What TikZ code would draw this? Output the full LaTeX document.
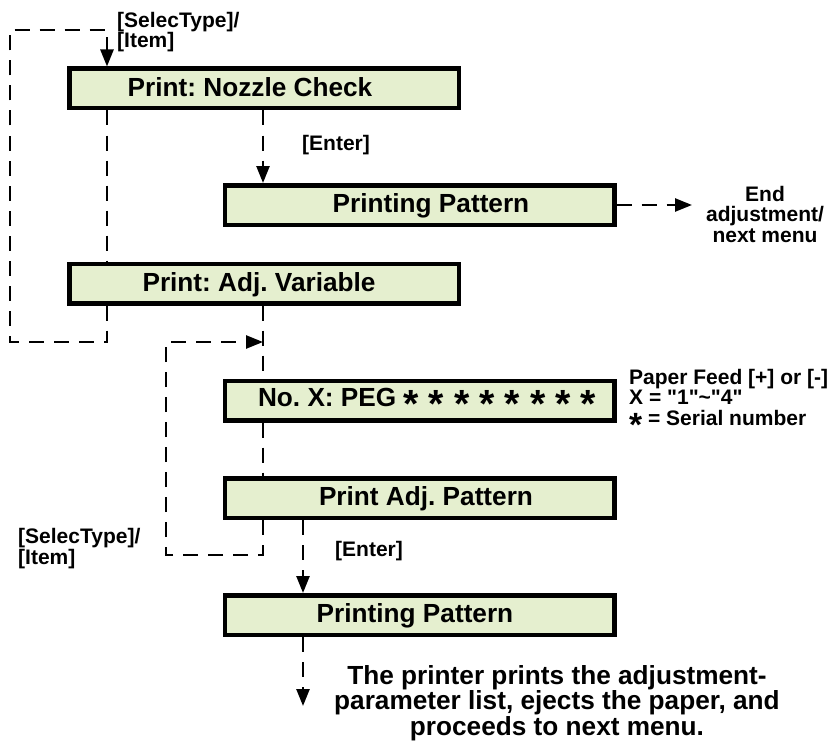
\documentclass[tikz,border=0pt]{standalone}
\usepackage{fontspec}
\usepackage{graphicx}
\setmainfont{Liberation Sans}
\usetikzlibrary{arrows.meta}
\definecolor{boxfill}{RGB}{229,239,207}
\newcommand\bigfont{\fontsize{26.2}{22.5}\selectfont\bfseries\frenchspacing}
\newcommand\smallfont{\fontsize{21}{20.5}\selectfont\bfseries\frenchspacing}
\newcommand\pegstar{\raisebox{-11pt}{\scalebox{1.5}{*}}}
\newcommand\sgap{\hspace{10pt}}
\newcommand\notestar{\raisebox{-11pt}{\scalebox{1.6}{*}}}
\begin{document}
\begin{tikzpicture}[x=1pt,y=-1pt,
  box/.style={draw=black, line width=4.5pt, fill=boxfill, minimum width=389.5pt, minimum height=39.5pt, inner sep=0pt},
  boxtext/.style={font=\bigfont, inner sep=0pt, anchor=base},
  dl/.style={line width=2.5pt, dash pattern=on 15pt off 10pt},
  arr/.style={-{Triangle[length=17pt,width=13pt]}},
  lbl/.style={font=\smallfont, inner sep=0pt, align=left, anchor=base west},
  clbl/.style={font=\smallfont, inner sep=0pt, align=center, anchor=base},
]
\useasboundingbox (0,0) rectangle (832,749);
% boxes
\node[box] (b1) at (264,88.5) {};
\node[box] (b2) at (419.5,205) {};
\node[box] (b3) at (264,283.5) {};
\node[box] (b4) at (419.5,400.5) {};
\node[box] (b5) at (419.5,498) {};
\node[box] (b6) at (419.5,615) {};
% box texts
\node[boxtext] (t1) at (250,96.5) {Print: Nozzle Check};
\node[boxtext] (t2) at (431,212) {Printing Pattern};
\node[boxtext] (t3) at (259,291) {Print: Adj. Variable};
\node[boxtext] (t4) at (427,406.5) {No. X: PEG \pegstar\sgap\pegstar\sgap\pegstar\sgap\pegstar\sgap\pegstar\sgap\pegstar\sgap\pegstar\sgap\pegstar};
\node[boxtext] (t5) at (426,505) {Print Adj. Pattern};
\node[boxtext] (t6) at (415,622) {Printing Pattern};
% coordinates
\coordinate (xa) at (107,0);
\coordinate (xb) at (263,0);
\coordinate (xd) at (303,0);
\coordinate (c1) at (107,342);
\coordinate (c2) at (10,342);
\coordinate (c3) at (10,30);
\coordinate (c4) at (107,30);
\coordinate (d1) at (263,555);
\coordinate (d2) at (166,555);
\coordinate (d3) at (166,342);
\coordinate (d4) at (263,342);
\coordinate (endtip) at (692,205);
\coordinate (fin) at (303,706);
% connectors
\draw[dl,arr] (b3.south -| xa) -- (c1) -- (c2) -- (c3) -- (c4) -- (b1.north -| c4);
\draw[dl] (b1.south -| xa) -- (b3.north -| xa);
\draw[dl,arr] (b1.south -| xb) -- (b2.north -| xb);
\draw[dl,arr] (b2.east) -- (endtip);
\draw[dl] (b3.south -| xb) -- (b4.north -| xb);
\draw[dl] (b4.south -| xb) -- (b5.north -| xb);
\draw[dl,arr] (b5.south -| xb) -- (d1) -- (d2) -- (d3) -- (d4);
\draw[dl,arr] (b5.south -| xd) -- (b6.north -| xd);
\draw[dl,arr] (b6.south -| xd) -- (fin);
% labels
\node[lbl] (l1) at (117,48) {[SelecType]/\\{}[Item]};
\node[lbl] (l2) at (302,150) {[Enter]};
\node[clbl] (l3) at (765,242) {End\\adjustment/\\next menu};
\node[lbl] (l4) at (629,425) {Paper Feed [+] or [-]\\X = \textquotedbl1\textquotedbl\textasciitilde\textquotedbl4\textquotedbl\\\notestar{} = Serial number};
\node[lbl] (l5) at (18,564) {[SelecType]/\\{}[Item]};
\node[lbl] (l6) at (335,556) {[Enter]};
\node[font=\bigfont, inner sep=0pt, align=center, anchor=base] (l7) at (557,735) {The printer prints the adjustment-\\parameter list, ejects the paper, and\\proceeds to next menu.};
\end{tikzpicture}
\end{document}
